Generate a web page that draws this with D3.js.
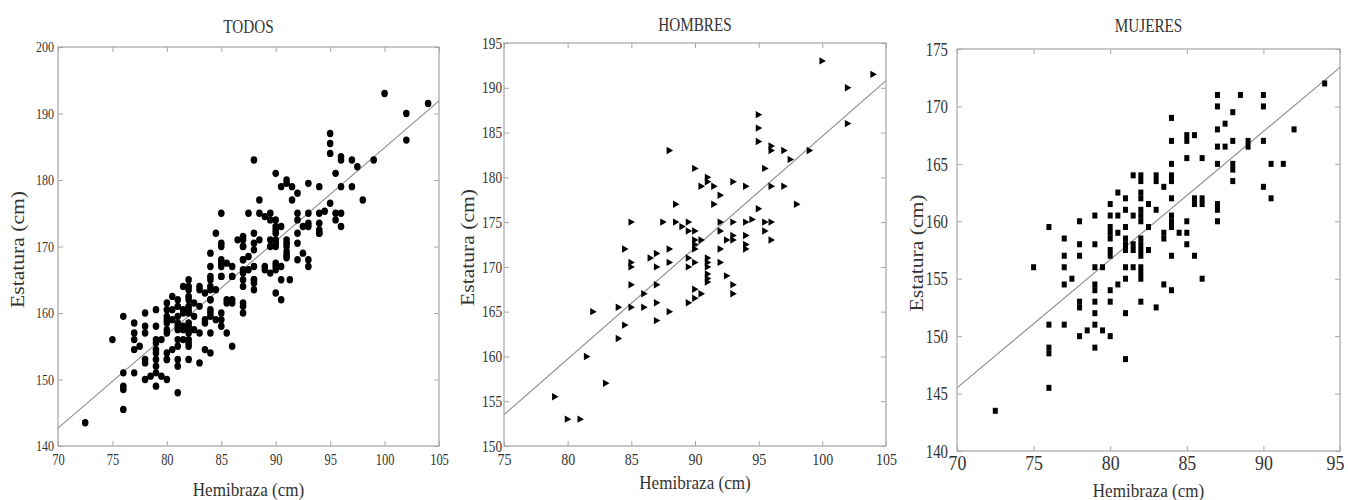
<!DOCTYPE html>
<html>
<head>
<meta charset="utf-8">
<script src="https://cdn.jsdelivr.net/npm/d3@7"></script>
<style>
  body { margin: 0; background: #fff; }
  svg { display: block; font-family: "Liberation Serif", "DejaVu Serif", serif; }
  text { fill: #333; }
</style>
</head>
<body>
<script>
/////////////////////////////////////////////////
// data (hemibraza, estatura)
/////////////////////////////////////////////////
var hombres = [
  [79,155.5],[80,153],[81,153],[81.5,160],[82,165],[83,157],
  [84,165.5],[84,162],[84.5,172],[84.5,163.5],
  [85,175],[85,170.5],[85,170],[85,168],[85,165.5],
  [86,167],[86,165.5],[86.5,171],
  [87,171.5],[87,170],[87,168],[87,166],[87,164],[87.5,175],
  [88,183],[88,172],[88,170.5],[88,165],
  [88.5,177],[88.5,175],[89,174.5],
  [89.5,175],[89.5,174],[89.5,171],[89.5,170],[89.5,166],
  [90,181],[90,174],[90,173],[90,172.5],[90,172],[90,170.5],[90,167.5],[90,166.5],
  [90.5,179],[90.5,173],[90.5,167],
  [91,180],[91,179.5],[91,171],[91,170.5],[91,170],[91,169.2],[91,168.7],[91,168.3],
  [91.5,179],[91.5,177],
  [92,178],[92,175],[92,174],[92,172],[92,170.5],
  [92.5,173],[92.5,169],
  [93,179.5],[93,175],[93,173.5],[93,173],[93,168],[93,167],
  [94,179],[94,175],[94,173.5],[94,172.5],[94,172],[94.5,175.3],
  [95,187],[95,185.5],[95,184],[95,176.5],
  [95.5,181],[95.5,175],[95.5,174],
  [96,183.5],[96,183],[96,179],[96,175],[96,173],
  [97,183],[97,179],[97.5,182],[98,177],[99,183],
  [100,193],[102,190],[102,186],[104,191.5]
];

var mujeres = [
  [72.5,143.5],
  [75,156],
  [76,159.5],[76,151],[76,149],[76,148.5],[76,145.5],
  [77,158.5],[77,157],[77,156],[77,154.5],[77,151],
  [77.5,155],
  [78,160],[78,158],[78,157],[78,153],[78,152.5],[78,150],
  [78.5,150.5],
  [79,160.5],[79,158],[79,156],[79,154.5],[79,154],[79,153],[79,152],[79,151],[79,149],
  [79.5,156],[79.5,150.5],
  [80,161.5],[80,160.5],[80,159.5],[80,159],[80,158.5],[80,157.5],[80,157],[80,154],[80,153],[80,150],
  [80.5,162.5],[80.5,160.5],[80.5,159],[80.5,154.5],
  [81,162],[81,161],[81,159.5],[81,158.5],[81,158],[81,157.5],[81,156],[81,155],[81,152],[81,148],
  [81.5,164],[81.5,160.5],[81.5,158],[81.5,157.5],[81.5,156],
  [82,164],[82,163.5],[82,162.5],[82,162],[82,161],[82,160.5],[82,160],[82,158.5],[82,158],
  [82,157.5],[82,157],[82,156],[82,155.5],[82,155],[82,153],
  [82.5,161.5],[82.5,159.5],[82.5,157.5],
  [83,164],[83,163.5],[83,161],[83,152.5],
  [83.5,163],[83.5,159],[83.5,158.5],[83.5,154.5],
  [84,169],[84,167],[84,165],[84,164],[84,163.5],[84,162],[84,160.5],[84,160],[84,159.5],[84,157],[84,154],
  [84.5,159],
  [85,167.5],[85,167],[85,165.5],[85,160],[85,159],[85,158],
  [85.5,167.5],[85.5,162],[85.5,161.5],[85.5,157],
  [86,165.5],[86,162],[86,161.5],[86,155],
  [87,171],[87,170],[87,168],[87,166.5],[87,165],[87,161.5],[87,161],[87,160],
  [87.5,168.5],[87.5,166.5],
  [88,169.5],[88,167],[88,165],[88,164.5],[88,163.5],
  [88.5,171],
  [89,167],[89,166.5],
  [90,171],[90,170],[90,167],[90,163],
  [90.5,165],[90.5,162],
  [91.3,165],
  [92,168],
  [94,172]
];

// TODOS = everyone
var todos = hombres.concat(mujeres);

// fitted lines, endpoints at the x-axis limits
var fitTodos   = [[70,142.7],[105,191.9]];
var fitHombres = [[75,153.5],[105,190.8]];
var fitMujeres = [[70,145.5],[95,173.4]];

// tick labels
var xTicksTodos   = [70,75,80,85,90,95,100,105];
var yTicksTodos   = [140,150,160,170,180,190,200];
var xTicksHombres = [75,80,85,90,95,100,105];
var yTicksHombres = [150,155,160,165,170,175,180,185,190,195];
var xTicksMujeres = [70,75,80,85,90,95];
var yTicksMujeres = [140,145,150,155,160,165,170,175];

var titles = ["TODOS", "HOMBRES", "MUJERES"];
var xLabel = "Hemibraza (cm)";
var yLabel = "Estatura (cm)";

/////////////////////////////////////////////////
// layout
/////////////////////////////////////////////////
var width  = 1348,
    height = 500;

var panels = [
  { title: titles[0], data: todos, fit: fitTodos, marker: "circle",
    xDom: [70,105], yDom: [140,200], xTicks: xTicksTodos, yTicks: yTicksTodos,
    left: 58, right: 439, top: 47, bottom: 446,
    titleY: 33, xLabY: 496, yLabX: 24,
    tick: { xs: 16, xsx: 0.78, ys: 15.5, ysx: 0.78, xy: 465, pad: 4, lastShift: 0 } },
  { title: titles[1], data: hombres, fit: fitHombres, marker: "triangle",
    xDom: [75,105], yDom: [150,195], xTicks: xTicksHombres, yTicks: yTicksHombres,
    left: 504, right: 886, top: 43, bottom: 446,
    titleY: 31, xLabY: 489, yLabX: 474,
    tick: { xs: 16.5, xsx: 0.85, ys: 16, ysx: 0.83, xy: 465, pad: 2, lastShift: 0 } },
  { title: titles[2], data: mujeres, fit: fitMujeres, marker: "square",
    xDom: [70,95], yDom: [140,175], xTicks: xTicksMujeres, yTicks: yTicksMujeres,
    left: 957, right: 1340, top: 49, bottom: 451,
    titleY: 32, xLabY: 497, yLabX: 923,
    tick: { xs: 21, xsx: 0.85, ys: 19.5, ysx: 0.76, xy: 470, pad: 9, lastShift: 5 } }
];

var svg = d3.select("body")
  .append("svg")
  .attr("width", width)
  .attr("height", height);

// text squeezed sideways, like the original bitmap
function label(x, y, txt, size, sx, rot) {
  svg.append("text")
    .attr("transform", "translate(" + x + "," + y + ") rotate(" + (rot || 0) + ") scale(" + sx + ",1)")
    .attr("text-anchor", "middle")
    .style("font-size", size + "px")
    .text(txt);
}

var tri = "M-2.9,-3.7L3.6,0L-2.9,3.7Z";

panels.forEach(function(p) {
  var x = d3.scaleLinear().domain(p.xDom).range([p.left, p.right]);
  var y = d3.scaleLinear().domain(p.yDom).range([p.bottom, p.top]);
  var t = p.tick;
  var lastX = p.xTicks[p.xTicks.length - 1];

  // frame
  svg.append("rect")
    .attr("x", p.left).attr("y", p.top)
    .attr("width", p.right - p.left).attr("height", p.bottom - p.top)
    .attr("fill", "none").attr("stroke", "#a6a6a6").attr("stroke-width", 1.2);

  // bottom axis
  var gb = svg.append("g")
    .attr("transform", "translate(0," + p.bottom + ")")
    .call(d3.axisBottom(x).tickValues(p.xTicks).tickSize(-5).tickFormat(d3.format("d")));
  gb.selectAll("text")
    .attr("y", t.xy - p.bottom).attr("dy", 0)
    .attr("x", function(d) { return d === lastX ? -t.lastShift / t.xsx : 0; })
    .attr("transform", "scale(" + t.xsx + ",1)")
    .style("font-size", t.xs + "px");

  // left axis
  var gl = svg.append("g")
    .attr("transform", "translate(" + p.left + ",0)")
    .call(d3.axisLeft(y).tickValues(p.yTicks).tickSize(-5).tickFormat(d3.format("d")));
  gl.selectAll("text")
    .attr("x", -t.pad / t.ysx)
    .attr("transform", "scale(" + t.ysx + ",1)")
    .style("font-size", t.ys + "px");

  // top and right ticks, no labels
  var gt = svg.append("g")
    .attr("transform", "translate(0," + p.top + ")")
    .call(d3.axisTop(x).tickValues(p.xTicks).tickSize(-5).tickFormat(""));
  var gr = svg.append("g")
    .attr("transform", "translate(" + p.right + ",0)")
    .call(d3.axisRight(y).tickValues(p.yTicks).tickSize(-5).tickFormat(""));

  [gb, gl, gt, gr].forEach(function(g) {
    g.select(".domain").remove();
    g.selectAll("line").attr("stroke", "#a6a6a6");
    g.attr("font-family", null).attr("font-size", null);
  });

  // fitted line
  svg.append("line")
    .attr("x1", x(p.fit[0][0])).attr("y1", y(p.fit[0][1]))
    .attr("x2", x(p.fit[1][0])).attr("y2", y(p.fit[1][1]))
    .attr("stroke", "#8c8c8c").attr("stroke-width", 1.1);

  // points
  var pts = svg.append("g").selectAll(".pt").data(p.data).enter();
  if (p.marker === "circle") {
    pts.append("ellipse")
      .attr("cx", function(d) { return x(d[0]); })
      .attr("cy", function(d) { return y(d[1]); })
      .attr("rx", 3.3).attr("ry", 3.7)
      .attr("fill", "#000");
  } else if (p.marker === "triangle") {
    pts.append("path")
      .attr("d", tri)
      .attr("transform", function(d) { return "translate(" + x(d[0]) + "," + y(d[1]) + ")"; })
      .attr("fill", "#000");
  } else {
    pts.append("rect")
      .attr("x", function(d) { return x(d[0]) - 2.5; })
      .attr("y", function(d) { return y(d[1]) - 3; })
      .attr("width", 5).attr("height", 6)
      .attr("fill", "#000");
  }

  // titles
  var cx = (p.left + p.right) / 2,
      cy = (p.top + p.bottom) / 2;
  label(cx, p.titleY, p.title, 19, 0.8, 0);
  label(cx, p.xLabY, xLabel, 18, 0.95, 0);
  label(p.yLabX, cy + 3, yLabel, 18, 1.2, -90);
});
</script>
</body>
</html>
